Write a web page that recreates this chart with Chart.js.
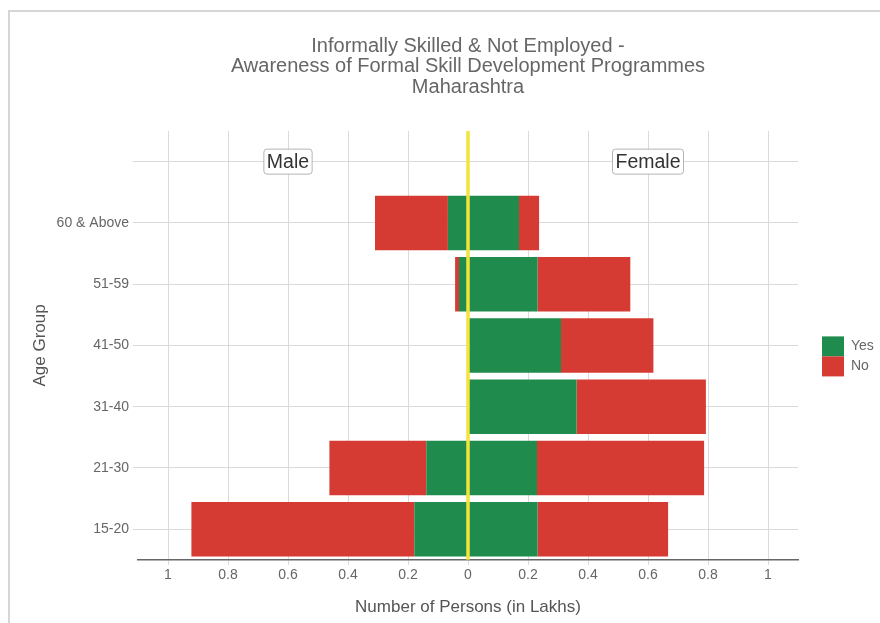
<!DOCTYPE html>
<html>
<head>
<meta charset="utf-8">
<script src="https://cdn.jsdelivr.net/npm/chart.js@4.4.0/dist/chart.umd.min.js"></script>
<style>
  body { margin: 0; background: #fff; }
  #wrap { position: relative; width: 880px; height: 623px; }
  #frame { position: absolute; left: 8px; top: 10px; right: 0; bottom: 0;
           border-left: 2px solid #d6d6d6; border-top: 2px solid #d6d6d6; pointer-events: none; }
</style>
</head>
<body>
<div id="wrap">
  <canvas id="chart" width="880" height="623"></canvas>
  <div id="frame"></div>
</div>
<script>
// chart text
const titleLines = ['Informally Skilled & Not Employed -',
                    'Awareness of Formal Skill Development Programmes',
                    'Maharashtra'];
const sideLabels = ['Male', 'Female'];
const legendLabels = ['Yes', 'No'];

// age groups, top to bottom
const ageGroups = ['60 & Above', '51-59', '41-50', '31-40', '21-30', '15-20'];

// values in lakhs
const maleYes   = [0.067, 0.030, 0.000, 0.000, 0.139, 0.179];
const maleNo    = [0.243, 0.013, 0.000, 0.000, 0.323, 0.743];
const femaleYes = [0.170, 0.232, 0.310, 0.362, 0.230, 0.232];
const femaleNo  = [0.067, 0.309, 0.308, 0.431, 0.557, 0.435];

const xTicks = [-1, -0.8, -0.6, -0.4, -0.2, 0, 0.2, 0.4, 0.6, 0.8, 1];

const GREEN = '#1f8b4c';
const RED = '#d63b33';
const FONT = "'Liberation Sans', Arial, sans-serif";

// extra blank row on top holds the Male / Female labels
const rows = [''].concat(ageGroups);
const pad = arr => [null].concat(arr);
const neg = arr => arr.map(v => (v ? -v : null));

// title drawn over the plot area centre
const titlePlugin = {
    id: 'titleOverPlot',
    afterDraw(chart) {
        const ctx = chart.ctx;
        const cx = (chart.chartArea.left + chart.chartArea.right) / 2;
        ctx.save();
        ctx.font = '20px ' + FONT;
        ctx.fillStyle = '#666';
        ctx.textAlign = 'center';
        ctx.textBaseline = 'middle';
        titleLines.forEach((t, i) => ctx.fillText(t, cx, 46 + i * 20.5));
        ctx.restore();
    }
};

// yellow zero line + Male/Female boxes + legend
const extrasPlugin = {
    id: 'extras',
    afterDatasetsDraw(chart) {
        const ctx = chart.ctx;
        const {top, bottom, right} = chart.chartArea;
        const xs = chart.scales.x;
        const ys = chart.scales.y;

        const x0 = xs.getPixelForValue(0);
        ctx.save();
        ctx.strokeStyle = '#f2e43c';
        ctx.lineWidth = 3.5;
        ctx.beginPath();
        ctx.moveTo(x0, top);
        ctx.lineTo(x0, bottom);
        ctx.stroke();

        // side labels
        ctx.font = '19.5px ' + FONT;
        ctx.textAlign = 'center';
        ctx.textBaseline = 'middle';
        const yRow = ys.getPixelForValue(0);
        [-0.6, 0.6].forEach((v, i) => {
            const cx = xs.getPixelForValue(v);
            const w = ctx.measureText(sideLabels[i]).width + 6;
            const h = 25;
            ctx.fillStyle = '#fff';
            ctx.strokeStyle = '#b5b5b5';
            ctx.lineWidth = 1;
            ctx.beginPath();
            ctx.roundRect(cx - w / 2, yRow - h / 2, w, h, 3);
            ctx.fill();
            ctx.stroke();
            ctx.fillStyle = '#333';
            ctx.fillText(sideLabels[i], cx, yRow + 1);
        });

        // legend
        const lx = right + 24;
        const ly = (top + bottom) / 2 - 9;
        ctx.font = '14px ' + FONT;
        ctx.textAlign = 'left';
        [GREEN, RED].forEach((c, i) => {
            ctx.fillStyle = c;
            ctx.fillRect(lx, ly + i * 20, 22, 20);
            ctx.fillStyle = '#666';
            ctx.fillText(legendLabels[i], lx + 29, ly + i * 20 + 10);
        });
        ctx.restore();
    }
};

new Chart(document.getElementById('chart'), {
    type: 'bar',
    data: {
        labels: rows,
        datasets: [
            { label: 'Male Yes', data: pad(neg(maleYes)), backgroundColor: GREEN },
            { label: 'Male No', data: pad(neg(maleNo)), backgroundColor: RED },
            { label: 'Female Yes', data: pad(femaleYes), backgroundColor: GREEN },
            { label: 'Female No', data: pad(femaleNo), backgroundColor: RED }
        ]
    },
    options: {
        indexAxis: 'y',
        responsive: false,
        animation: false,
        datasets: { bar: { categoryPercentage: 1, barPercentage: 0.89, borderWidth: 0 } },
        layout: { padding: { top: 131, right: 82, bottom: 2, left: 20 } },
        plugins: {
            legend: { display: false },
            title: { display: false },
            tooltip: { enabled: false }
        },
        scales: {
            x: {
                stacked: true,
                min: -1.1,
                max: 1.1,
                afterBuildTicks: scale => { scale.ticks = xTicks.map(v => ({ value: v })); },
                ticks: {
                    padding: 2,
                    color: '#666',
                    font: { family: FONT, size: 14 },
                    callback: v => String(Math.abs(Math.round(v * 10) / 10))
                },
                grid: { color: '#dadada', tickLength: 5, lineWidth: 1 },
                border: { display: true, color: '#666', width: 1.5 },
                title: {
                    display: true,
                    text: 'Number of Persons (in Lakhs)',
                    color: '#555',
                    font: { family: FONT, size: 17 },
                    padding: { top: 12, bottom: 3 }
                }
            },
            y: {
                stacked: true,
                afterFit: scale => { scale.width = 118; },
                ticks: {
                    padding: 4,
                    color: '#666',
                    font: { family: FONT, size: 14 }
                },
                grid: { color: '#dadada', offset: false, tickLength: 5 },
                border: { display: false },
                title: {
                    display: true,
                    text: 'Age Group',
                    color: '#555',
                    font: { family: FONT, size: 17 },
                    padding: { top: 10, bottom: 0 }
                }
            }
        }
    },
    plugins: [titlePlugin, extrasPlugin]
});
</script>
</body>
</html>
